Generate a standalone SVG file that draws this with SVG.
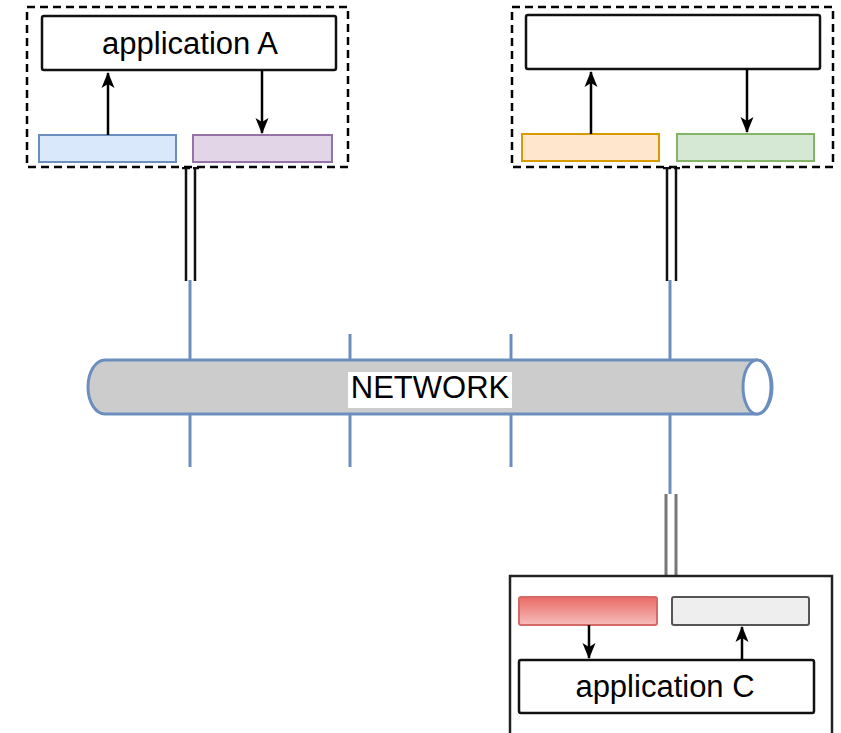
<svg xmlns="http://www.w3.org/2000/svg" width="841" height="733" viewBox="0 0 841 733">
  <defs>
    <marker id="arrow" viewBox="0 0 16 14" refX="15" refY="7" markerWidth="16" markerHeight="14" markerUnits="userSpaceOnUse" orient="auto">
      <path d="M0,0.5 L16,7 L0,13.5 L4,7 Z" fill="#000"/>
    </marker>
    <linearGradient id="redGrad" x1="0" y1="0" x2="0" y2="1">
      <stop offset="0" stop-color="#ea6b66"/>
      <stop offset="1" stop-color="#f6bdbb"/>
    </linearGradient>
    <style>
      .container { fill: #fff; stroke: #000; stroke-width: 2.5; stroke-dasharray: 8 5; }
      .solidbox { fill: #fff; stroke: #222; stroke-width: 2.5; }
      .app { fill: #fff; stroke: #111; stroke-width: 2.5; }
      .port { stroke-width: 2; }
      .label { font-family: "Liberation Sans", Arial, sans-serif; font-size: 31px; fill: #000; text-anchor: middle; }
      .flow { stroke: #000; stroke-width: 2.5; fill: none; marker-end: url(#arrow); }
      .tap { stroke: #6c8ebf; stroke-width: 3; fill: none; }
      .link { stroke: #111; stroke-width: 2.5; fill: none; }
      .linkgray { stroke: #777; stroke-width: 3; fill: none; }
    </style>
  </defs>

  <!-- network taps (drawn beneath the pipe) -->
  <g id="connectors">
    <line class="tap" x1="190" y1="280" x2="190" y2="467"/>
    <line class="tap" x1="350" y1="334" x2="350" y2="467"/>
    <line class="tap" x1="511" y1="334" x2="511" y2="467"/>
    <line class="tap" x1="670" y1="280" x2="670" y2="494"/>
    <!-- double links to the hosts -->
    <line class="link" x1="186" y1="168" x2="186" y2="281"/>
    <line class="link" x1="195" y1="168" x2="195" y2="281"/>
    <line class="link" x1="182" y1="168" x2="190" y2="168"/>
    <line class="link" x1="193" y1="168" x2="199" y2="168"/>
    <line class="link" x1="667" y1="168" x2="667" y2="281"/>
    <line class="link" x1="676" y1="168" x2="676" y2="281"/>
    <line class="link" x1="663" y1="168" x2="671" y2="168"/>
    <line class="link" x1="674" y1="168" x2="680" y2="168"/>
    <line class="linkgray" x1="666" y1="494" x2="666" y2="576"/>
    <line class="linkgray" x1="676" y1="494" x2="676" y2="576"/>
  </g>

  <!-- network pipe -->
  <g id="network">
    <path d="M105,360 L757,360 A15,27 0 0 1 757,414 L105,414 A17,27 0 0 1 105,360 Z" fill="#cccccc" stroke="#6c8ebf" stroke-width="3"/>
    <ellipse cx="757" cy="387" rx="14" ry="27" fill="#fff" stroke="#6c8ebf" stroke-width="3"/>
    <rect x="348" y="372" width="164" height="36" fill="#fff"/>
    <text class="label" x="430" y="398">NETWORK</text>
  </g>

  <!-- host A -->
  <g id="hostA">
    <rect class="container" x="27" y="7" width="321" height="160"/>
    <rect class="app" x="42" y="16" width="294" height="54" rx="2"/>
    <text class="label" x="190" y="54">application A</text>
    <rect class="port" x="39" y="135" width="137" height="27" fill="#dae8fc" stroke="#6c8ebf"/>
    <rect class="port" x="193" y="135" width="139" height="27" fill="#e1d5e7" stroke="#9673a6"/>
    <line class="flow" x1="108" y1="135" x2="108" y2="73"/>
    <line class="flow" x1="262" y1="70" x2="262" y2="133"/>
  </g>

  <!-- host B -->
  <g id="hostB">
    <rect class="container" x="512" y="7" width="321" height="160"/>
    <rect class="app" x="526" y="15" width="294" height="54" rx="2"/>
    <rect class="port" x="522" y="134" width="137" height="27" fill="#ffe6cc" stroke="#d79b00"/>
    <rect class="port" x="677" y="134" width="137" height="27" fill="#d5e8d4" stroke="#82b366"/>
    <line class="flow" x1="591" y1="134" x2="591" y2="72"/>
    <line class="flow" x1="747" y1="69" x2="747" y2="132"/>
  </g>

  <!-- host C -->
  <g id="hostC">
    <rect class="solidbox" x="510" y="576" width="322" height="170"/>
    <rect class="port" x="519" y="597" width="138" height="28" rx="2" fill="url(#redGrad)" stroke="#d46a66"/>
    <rect class="port" x="672" y="597" width="137" height="28" rx="2" fill="#eeeeee" stroke="#555"/>
    <rect class="app" x="519" y="660" width="295" height="53" rx="2"/>
    <text class="label" x="665" y="697">application C</text>
    <line class="flow" x1="589" y1="625" x2="589" y2="658"/>
    <line class="flow" x1="742" y1="660" x2="742" y2="627"/>
  </g>
</svg>
